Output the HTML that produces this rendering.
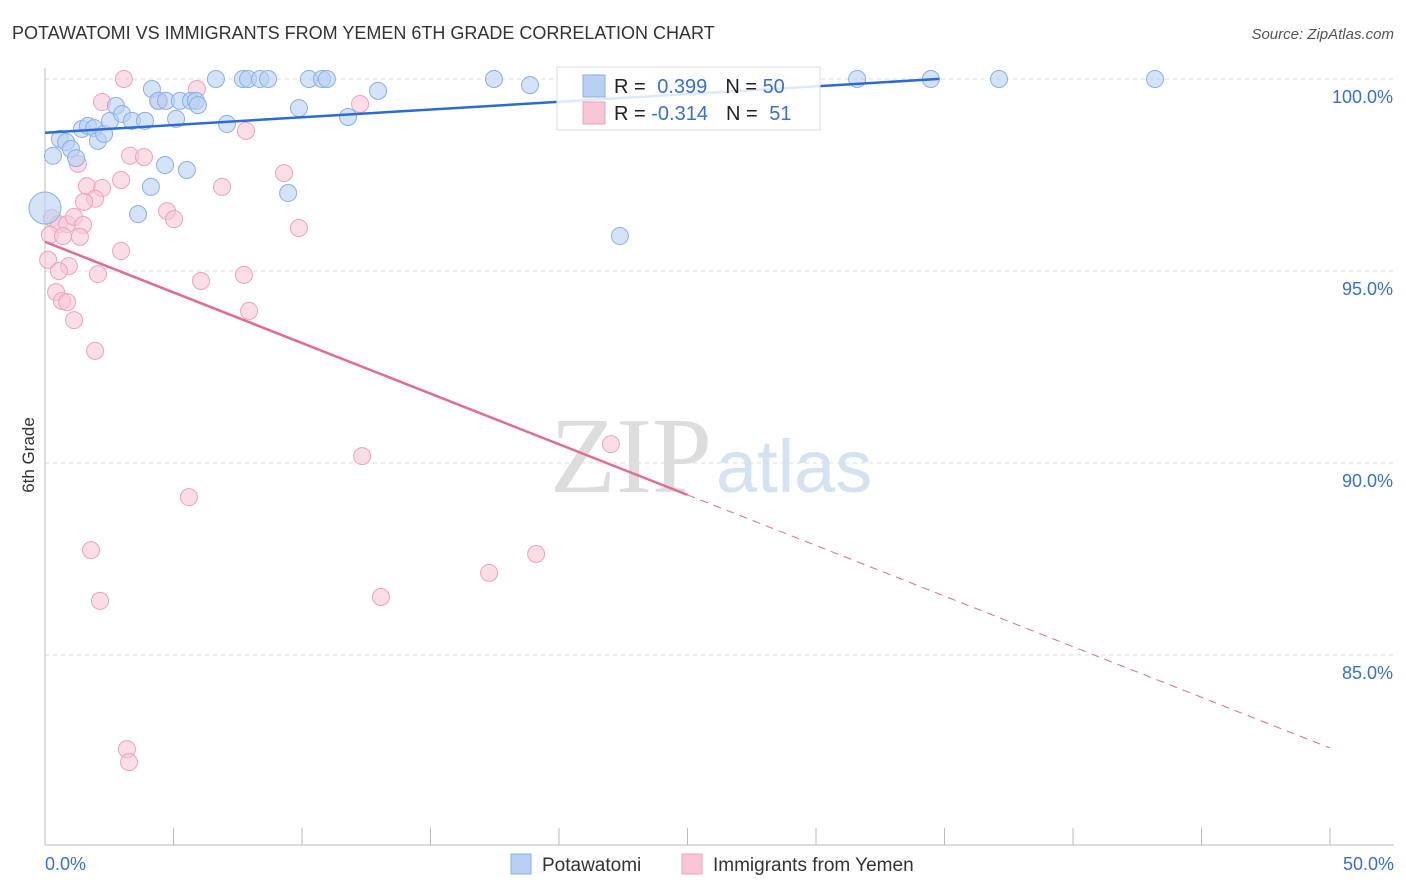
<!DOCTYPE html>
<html><head><meta charset="utf-8"><style>
body{margin:0;background:#fff;font-family:"Liberation Sans",sans-serif;}
svg{display:block}
</style></head><body>
<svg id="chart" width="1406" height="892" xmlns="http://www.w3.org/2000/svg">
<text x="12" y="39" font-size="18" fill="#333">POTAWATOMI VS IMMIGRANTS FROM YEMEN 6TH GRADE CORRELATION CHART</text>
<text x="1394" y="39" font-size="15" fill="#555" font-style="italic" text-anchor="end">Source: ZipAtlas.com</text>
<text transform="translate(34,455) rotate(-90)" font-size="17" fill="#333" text-anchor="middle">6th Grade</text>
<text x="712" y="492" font-size="108" font-family="Liberation Serif,serif" fill="#ddd" text-anchor="end">ZIP</text>
<text x="716" y="492" font-size="74" fill="#d5e2f2">atlas</text>
<g id="grid"></g><g id="axes"></g><g id="pts"></g><g id="lines"></g>
<g>
<rect x="557" y="67" width="263" height="63" fill="#fff" fill-opacity="0.85" stroke="#ddd"/>
<rect x="583" y="75" width="22" height="22" fill="#b8d0f3" stroke="#8ab0e6"/>
<rect x="583" y="102" width="22" height="22" fill="#f8c6d6" stroke="#eda3bd"/>
<text x="614" y="93" font-size="20" fill="#222">R = <tspan fill="#3a6fd0" dx="6">0.399</tspan><tspan dx="18" fill="#222">N = </tspan><tspan fill="#3a6fd0">50</tspan></text>
<text x="614" y="120" font-size="20" fill="#222">R = <tspan fill="#3a6fd0">-0.314</tspan><tspan dx="18" fill="#222">N = </tspan><tspan fill="#3a6fd0" dx="6">51</tspan></text>
</g>
<g>
<rect x="511" y="854" width="20" height="20" fill="#b8d0f3" stroke="#8ab0e6"/>
<text x="542" y="871" font-size="19" fill="#333">Potawatomi</text>
<rect x="682" y="854" width="20" height="20" fill="#f8c6d6" stroke="#eda3bd"/>
<text x="713" y="871" font-size="19" fill="#333">Immigrants from Yemen</text>
</g>
</svg>
<script>
const blueX=[0,0.31,0.58,0.82,1.01,1.21,1.44,1.67,1.91,2.06,2.30,2.53,2.76,3.00,3.38,3.89,4.16,4.40,4.71,5.10,5.25,5.68,5.87,5.95,4.67,4.12,5.52,3.62,6.65,7.08,7.70,7.90,8.37,8.68,9.46,9.88,10.27,10.78,10.97,11.79,12.96,17.47,18.87,21.4,22.37,25.37,31.6,34.47,37.12,43.19];
const blueY=[96.64,98.0,98.44,98.36,98.18,97.94,98.70,98.78,98.72,98.39,98.57,98.91,99.30,99.09,98.91,98.91,99.74,99.43,99.43,98.96,99.43,99.43,99.43,99.32,97.76,97.19,97.63,96.48,100,98.83,100,100,100,100,97.03,99.24,100,100,100,99.01,99.69,100,99.84,99.9,95.91,99.92,100,100,100,100];
const pinkX=[3.07,2.22,4.44,5.91,12.26,7.82,3.31,3.85,1.28,2.96,1.63,2.22,6.89,9.30,1.95,1.52,4.75,5.02,0.27,0.54,0.86,1.13,1.48,0.19,0.70,1.36,9.88,2.96,0.12,0.93,0.54,2.06,7.74,6.07,0.43,0.66,0.86,7.94,1.13,1.95,12.34,22.02,5.60,1.79,19.11,17.28,2.14,13.07,3.19,3.27,21.3];
const pinkY=[100,99.40,99.43,99.74,99.35,98.65,98.0,97.97,97.79,97.37,97.21,97.16,97.19,97.55,96.88,96.80,96.56,96.35,96.38,96.22,96.22,96.41,96.20,95.94,95.91,95.89,96.12,95.52,95.29,95.13,95.0,94.92,94.90,94.74,94.45,94.22,94.19,93.96,93.72,92.92,90.18,90.49,89.11,87.73,87.63,87.14,86.41,86.51,82.55,82.21,99.4];
const yTicks=[100,95,90,85];
const yTickLabels=["100.0%","95.0%","90.0%","85.0%"];
const xTicks=[0,5,10,15,20,25,30,35,40,45,50];
const blueTrend=[98.6,0.0403,34.8];
const pinkTrend=[95.76,-0.2636,25];
const NS="http://www.w3.org/2000/svg";
const sx=v=>45+v*25.7, sy=v=>79+(100-v)*38.4;
function mk(t,a,p){const e=document.createElementNS(NS,t);for(const k in a)e.setAttribute(k,a[k]);p.appendChild(e);return e;}
const grid=document.getElementById('grid'),axes=document.getElementById('axes'),pts=document.getElementById('pts'),lines=document.getElementById('lines');
yTicks.forEach((v,i)=>{
 const l=mk('line',{x1:45,x2:1394,y1:sy(v),y2:sy(v),stroke:'#ddd','stroke-dasharray':'4,4'},grid);
 
 
 const t=mk('text',{x:1393,y:sy(v)+24,'font-size':18,fill:'#3a6fd0','text-anchor':'end'},axes);t.textContent=yTickLabels[i];
 
 
});
mk('line',{x1:45,x2:45,y1:68,y2:845,stroke:'#bbb'},axes);
mk('line',{x1:45,x2:1394,y1:845,y2:845,stroke:'#bbb'},axes);
xTicks.forEach(v=>{const l=mk('line',{x1:sx(v),x2:sx(v),y1:828,y2:845,stroke:'#bbb'},axes);
 
 });
let t0=mk('text',{x:45,y:870,'font-size':18,fill:'#3a6fd0'},axes);t0.textContent='0.0%';


let t1=mk('text',{x:1394,y:870,'font-size':18,fill:'#3a6fd0','text-anchor':'end'},axes);t1.textContent='50.0%';


pinkX.forEach((x,i)=>{const c=mk('circle',{cx:sx(x),cy:sy(pinkY[i]),r:8.5,fill:'#f8c6d6','fill-opacity':0.6,stroke:'#eda3bd'},pts);
 
 });
blueX.forEach((x,i)=>{const c=mk('circle',{cx:sx(x),cy:sy(blueY[i]),r:i===0?16:8.5,fill:'#b8d0f3','fill-opacity':0.6,stroke:'#8ab0e6'},pts);
 
 });
let bl=mk('line',{x1:sx(0),y1:sy(blueTrend[0]),x2:sx(blueTrend[2]),y2:sy(blueTrend[0]+blueTrend[1]*blueTrend[2]),stroke:'#2a6bd6','stroke-width':2.5},lines);


let pl=mk('line',{x1:sx(0),y1:sy(pinkTrend[0]),x2:sx(pinkTrend[2]),y2:sy(pinkTrend[0]+pinkTrend[1]*pinkTrend[2]),stroke:'#e46a96','stroke-width':2.5},lines);


let pd=mk('line',{x1:sx(pinkTrend[2]),y1:sy(pinkTrend[0]+pinkTrend[1]*pinkTrend[2]),x2:sx(50),y2:sy(pinkTrend[0]+pinkTrend[1]*50),stroke:'#e46a96','stroke-width':1,'stroke-dasharray':'8,6'},lines);


</script>
</body></html>
